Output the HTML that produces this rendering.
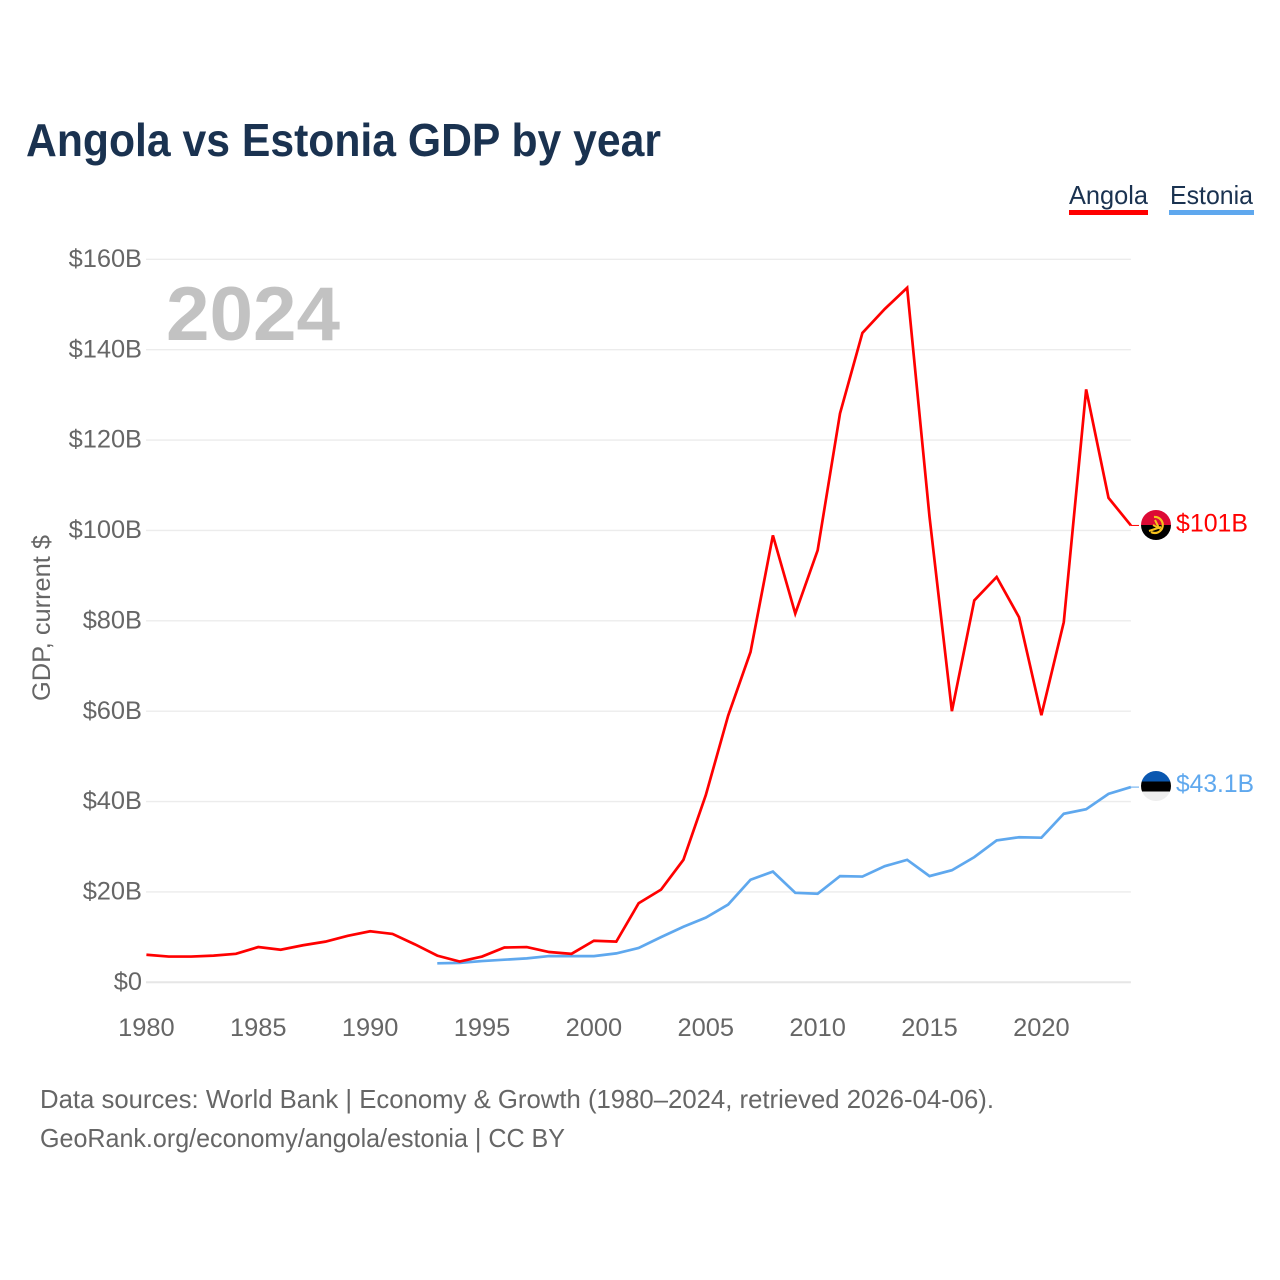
<!DOCTYPE html>
<html lang="en">
<head>
<meta charset="utf-8">
<title>Angola vs Estonia GDP by year</title>
<style>
html,body{margin:0;padding:0;background:#fff;width:1280px;height:1280px;overflow:hidden}
svg{display:block;font-family:"Liberation Sans",sans-serif}
</style>
</head>
<body>
<svg id="chart" xmlns="http://www.w3.org/2000/svg" width="1280" height="1280" viewBox="0 0 1280 1280">
  <defs>
    <clipPath id="clip-angola"><circle cx="1156" cy="525" r="15"/></clipPath>
    <clipPath id="clip-estonia"><circle cx="1156" cy="786" r="15"/></clipPath>
  </defs>
  <rect width="1280" height="1280" fill="#fff"/>
  <text x="26" y="156" font-size="46" font-weight="700" fill="#1a3250" textLength="635" lengthAdjust="spacingAndGlyphs">Angola vs Estonia GDP by year</text>

  <g>
    <g>
      <text x="1069" y="204" font-size="26" fill="#1a3250" textLength="79" lengthAdjust="spacingAndGlyphs">Angola</text>
      <rect x="1069" y="210" width="79" height="5" fill="#ff0000"/>
    </g>
    <g>
      <text x="1170" y="204" font-size="26" fill="#1a3250" textLength="83" lengthAdjust="spacingAndGlyphs">Estonia</text>
      <rect x="1169" y="210" width="85" height="5" fill="#5fa8ee"/>
    </g>
  </g>

  <g id="grid"></g>
  <g id="y-ticks"></g>
  <g id="x-ticks"></g>

  <text transform="translate(50,618) rotate(-90)" text-anchor="middle" font-size="25" fill="#666" textLength="166" lengthAdjust="spacingAndGlyphs">GDP, current $</text>
  <text x="166" y="340" font-size="76" font-weight="700" fill="#c2c2c2" textLength="174" lengthAdjust="spacingAndGlyphs">2024</text>

  <g id="series"></g>

  <g clip-path="url(#clip-angola)">
    <rect x="1141" y="510" width="30" height="15" fill="#dd0a35"/>
    <rect x="1141" y="525" width="30" height="15" fill="#000"/>
    <path d="M1154 517 A8 8 0 1 1 1151 532" fill="none" stroke="#f6c21c" stroke-width="2.2"/>
    <path d="M1149 531 L1161 527 M1155 520 L1159 528 L1153 525" fill="none" stroke="#f6c21c" stroke-width="2"/>
  </g>
  <g clip-path="url(#clip-estonia)">
    <rect x="1141" y="771" width="30" height="10.5" fill="#0a57b0"/>
    <rect x="1141" y="781.5" width="30" height="10" fill="#000"/>
    <rect x="1141" y="791.5" width="30" height="10" fill="#eeeeee"/>
  </g>

  <text id="value-angola" x="1176" y="531.5" font-size="25" fill="#ff0000" textLength="72" lengthAdjust="spacingAndGlyphs">$101B</text>
  <text id="value-estonia" x="1176" y="792" font-size="25" fill="#5fa8ee" textLength="78" lengthAdjust="spacingAndGlyphs">$43.1B</text>

  <text x="40" y="1108" font-size="26" fill="#666" textLength="954" lengthAdjust="spacingAndGlyphs">Data sources: World Bank | Economy &amp; Growth (1980–2024, retrieved 2026-04-06).</text>
  <text x="40" y="1147" font-size="26" fill="#666" textLength="525" lengthAdjust="spacingAndGlyphs">GeoRank.org/economy/angola/estonia | CC BY</text>
</svg>
<script>
const angolaYears = [1980,1981,1982,1983,1984,1985,1986,1987,1988,1989,1990,1991,1992,1993,1994,1995,1996,1997,1998,1999,2000,2001,2002,2003,2004,2005,2006,2007,2008,2009,2010,2011,2012,2013,2014,2015,2016,2017,2018,2019,2020,2021,2022,2023,2024];
const angolaValues = [6.1,5.7,5.7,5.9,6.3,7.8,7.2,8.2,9.0,10.3,11.3,10.7,8.4,5.9,4.6,5.7,7.7,7.8,6.7,6.3,9.2,9.0,17.5,20.5,27.1,41.4,59.0,73.1,98.9,81.6,95.6,125.9,143.7,149.0,153.7,103.0,60.0,84.5,89.7,80.8,59.1,79.7,131.2,107.2,101.1];
const estoniaYears = [1993,1994,1995,1996,1997,1998,1999,2000,2001,2002,2003,2004,2005,2006,2007,2008,2009,2010,2011,2012,2013,2014,2015,2016,2017,2018,2019,2020,2021,2022,2023,2024];
const estoniaValues = [4.2,4.3,4.7,5.0,5.3,5.8,5.8,5.8,6.4,7.6,10.0,12.3,14.3,17.2,22.7,24.5,19.8,19.6,23.5,23.4,25.7,27.1,23.5,24.8,27.7,31.4,32.1,32.0,37.3,38.3,41.7,43.2];
const yTickValues = [0,20,40,60,80,100,120,140,160];
const xTickValues = [1980,1985,1990,1995,2000,2005,2010,2015,2020];

const SVG_NS = 'http://www.w3.org/2000/svg';
const xScale = function (year) { return 146.4 + (year - 1980) * 22.375; };
const yScale = function (value) { return 982.3 - value * 4.5188; };

const grid = document.getElementById('grid');
const yTicks = document.getElementById('y-ticks');
const xTicks = document.getElementById('x-ticks');
const series = document.getElementById('series');

yTickValues.forEach(function (v) {
  const line = document.createElementNS(SVG_NS, 'line');
  
  
  line.setAttribute('x1', 146);
  line.setAttribute('x2', xScale(2024));
  line.setAttribute('y1', yScale(v));
  line.setAttribute('y2', yScale(v));
  line.setAttribute('stroke', v === 0 ? '#e6e6e6' : '#ececec');
  line.setAttribute('stroke-width', v === 0 ? 2 : 1.4);
  grid.appendChild(line);

  const label = document.createElementNS(SVG_NS, 'text');
  
  
  label.setAttribute('x', 142);
  label.setAttribute('y', yScale(v) + 7.7);
  label.setAttribute('text-anchor', 'end');
  label.setAttribute('font-size', 25.4);
  label.setAttribute('fill', '#666');
  label.textContent = v === 0 ? '$0' : '$' + v + 'B';
  yTicks.appendChild(label);
});

xTickValues.forEach(function (yr) {
  const label = document.createElementNS(SVG_NS, 'text');
  
  
  label.setAttribute('x', xScale(yr));
  label.setAttribute('y', 1036);
  label.setAttribute('text-anchor', 'middle');
  label.setAttribute('font-size', 25.4);
  label.setAttribute('fill', '#666');
  label.textContent = String(yr);
  xTicks.appendChild(label);
});

function pathFor(years, values) {
  return years.map(function (yr, i) {
    return (i ? 'L' : 'M') + xScale(yr).toFixed(2) + ' ' + yScale(values[i]).toFixed(2);
  }).join(' ');
}

const estoniaLine = document.createElementNS(SVG_NS, 'path');


estoniaLine.setAttribute('d', pathFor(estoniaYears, estoniaValues));
estoniaLine.setAttribute('fill', 'none');
estoniaLine.setAttribute('stroke', '#5fa8ee');
estoniaLine.setAttribute('stroke-width', 2.7);
estoniaLine.setAttribute('stroke-linejoin', 'miter');
series.appendChild(estoniaLine);

const angolaLine = document.createElementNS(SVG_NS, 'path');


angolaLine.setAttribute('d', pathFor(angolaYears, angolaValues));
angolaLine.setAttribute('fill', 'none');
angolaLine.setAttribute('stroke', '#ff0000');
angolaLine.setAttribute('stroke-width', 2.7);
angolaLine.setAttribute('stroke-linejoin', 'miter');
series.appendChild(angolaLine);

const angolaConnector = document.createElementNS(SVG_NS, 'line');


angolaConnector.setAttribute('x1', xScale(2024));
angolaConnector.setAttribute('x2', 1139);
angolaConnector.setAttribute('y1', yScale(angolaValues[angolaValues.length - 1]));
angolaConnector.setAttribute('y2', yScale(angolaValues[angolaValues.length - 1]));
angolaConnector.setAttribute('stroke', '#ff0000');
angolaConnector.setAttribute('stroke-width', 1);
series.appendChild(angolaConnector);

const estoniaConnector = document.createElementNS(SVG_NS, 'line');


estoniaConnector.setAttribute('x1', xScale(2024));
estoniaConnector.setAttribute('x2', 1139);
estoniaConnector.setAttribute('y1', yScale(estoniaValues[estoniaValues.length - 1]));
estoniaConnector.setAttribute('y2', yScale(estoniaValues[estoniaValues.length - 1]));
estoniaConnector.setAttribute('stroke', '#5fa8ee');
estoniaConnector.setAttribute('stroke-width', 1);
series.appendChild(estoniaConnector);
</script>
</body>
</html>
